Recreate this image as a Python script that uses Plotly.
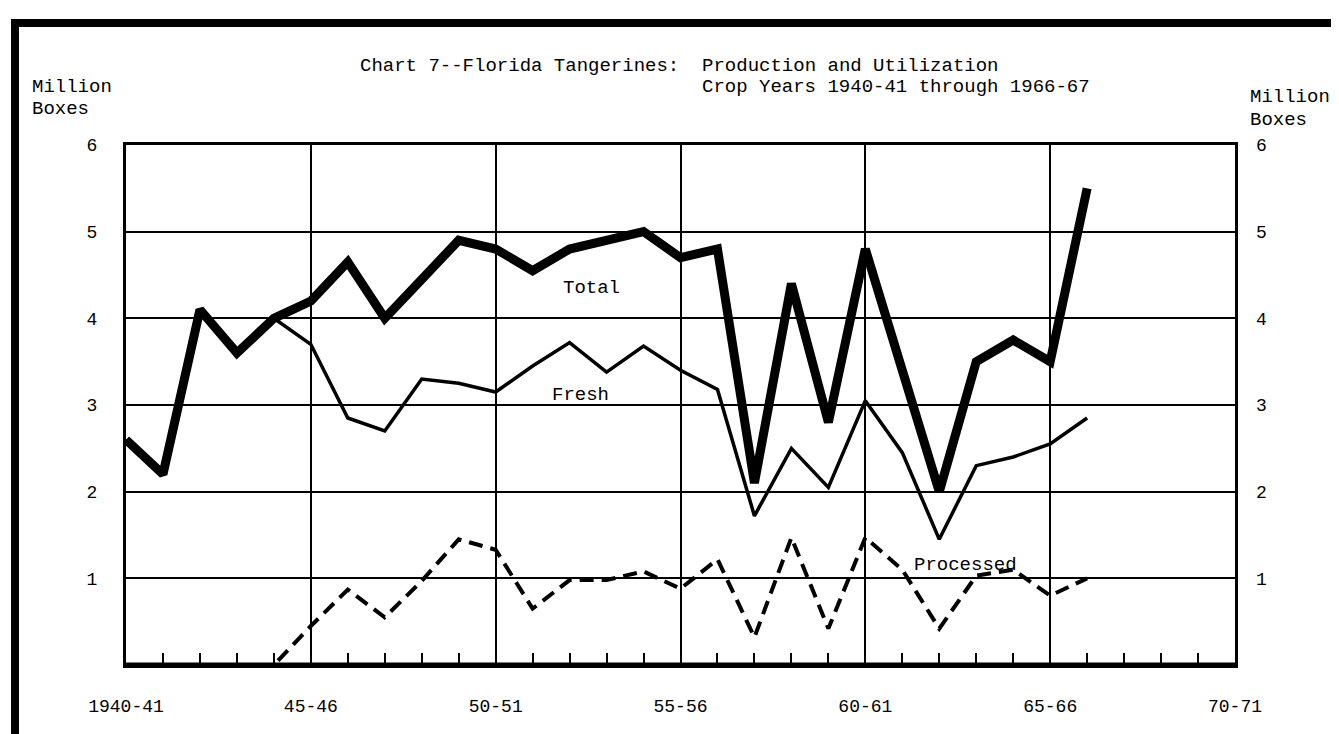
import plotly.graph_objects as go

# ---- data (million boxes), crop years starting 1940 (1940-41) ----
crop_year_start = list(range(1940, 1967))
total = [2.6, 2.2, 4.1, 3.6, 4.0, 4.2, 4.65, 4.0, 4.45, 4.9, 4.8, 4.55, 4.8, 4.9,
         5.0, 4.7, 4.8, 2.1, 4.4, 2.8, 4.8, 3.4, 2.0, 3.5, 3.75, 3.5, 5.5]
fresh = [2.6, 2.2, 4.1, 3.6, 4.0, 3.7, 2.85, 2.7, 3.3, 3.25, 3.15, 3.45, 3.72, 3.38,
         3.68, 3.4, 3.18, 1.72, 2.5, 2.05, 3.05, 2.45, 1.45, 2.3, 2.4, 2.55, 2.85]
processed = [0, 0, 0, 0, 0, 0.45, 0.87, 0.55, 0.97, 1.45, 1.33, 0.65, 0.98, 0.98,
             1.08, 0.88, 1.22, 0.32, 1.47, 0.42, 1.47, 1.1, 0.42, 1.03, 1.1, 0.8, 1.0]

x_tick_vals = [1940, 1945, 1950, 1955, 1960, 1965, 1970]
x_tick_text = ["1940-41", "45-46", "50-51", "55-56", "60-61", "65-66", "70-71"]
y_tick_vals = [1, 2, 3, 4, 5, 6]

FONT = "Liberation Mono"
W, H = 1339, 734
L, R, T, B = 118, 1227, 137, 657


def px(x):
    return (x - L) / (R - L)


def py(y):
    return (B - y) / (B - T)


fig = go.Figure()
fig.add_trace(go.Scatter(x=crop_year_start, y=processed, mode="lines",
                         line=dict(color="black", width=4, dash="14px,8px"),
                         showlegend=False, hoverinfo="skip"))
fig.add_trace(go.Scatter(x=crop_year_start, y=fresh, mode="lines",
                         line=dict(color="black", width=3.5),
                         showlegend=False, hoverinfo="skip"))
fig.add_trace(go.Scatter(x=crop_year_start, y=total, mode="lines",
                         line=dict(color="black", width=9),
                         showlegend=False, hoverinfo="skip"))
# invisible companion so that the right-hand axis is drawn
fig.add_trace(go.Scatter(x=crop_year_start, y=total, mode="lines", yaxis="y2",
                         line=dict(color="rgba(0,0,0,0)", width=0),
                         showlegend=False, hoverinfo="skip"))

fig.update_layout(
    width=W, height=H,
    margin=dict(l=L, r=W - R, t=T, b=H - B),
    paper_bgcolor="white", plot_bgcolor="white",
    font=dict(family=FONT, color="black", size=18),
    xaxis=dict(range=[1940, 1970], tickvals=x_tick_vals, ticktext=x_tick_text,
               showgrid=True, gridcolor="black", gridwidth=2,
               showline=True, linecolor="black", linewidth=3, mirror=True,
               ticks="inside", ticklen=12, tickwidth=2, tickcolor="black",
               minor=dict(dtick=1, ticks="inside", ticklen=12, tickwidth=2,
                          tickcolor="black", showgrid=False),
               ticklabelstandoff=22, zeroline=False,
               tickfont=dict(family=FONT, size=18, color="black")),
    yaxis=dict(range=[0, 6], tickvals=y_tick_vals, showgrid=True,
               gridcolor="black", gridwidth=2, showline=True, linecolor="black",
               linewidth=3, mirror=True, ticks="", zeroline=False,
               ticklabelstandoff=22,
               tickfont=dict(family=FONT, size=18, color="black")),
    yaxis2=dict(range=[0, 6], tickvals=y_tick_vals, overlaying="y", side="right",
                showgrid=False, showline=False, ticks="", zeroline=False,
                ticklabelstandoff=20,
                tickfont=dict(family=FONT, size=18, color="black")),
)

# thicker bottom axis line
fig.add_shape(type="line", xref="paper", yref="paper", x0=0, x1=1, y0=0, y1=0,
              line=dict(color="black", width=5), layer="above")

# page frame
frame = dict(xref="paper", yref="paper", type="rect", fillcolor="black",
             line=dict(width=0), layer="above")
fig.add_shape(x0=px(6), x1=px(1338), y0=py(11), y1=py(19), **frame)   # top
fig.add_shape(x0=px(3), x1=px(11), y0=py(11), y1=py(734), **frame)    # left
fig.add_shape(x0=px(1330), x1=px(1338), y0=py(11), y1=py(734), **frame)  # right
fig.add_shape(x0=px(3), x1=px(360), y0=py(729), y1=py(734), **frame)  # bottom

NB = "\u00a0"
ann = dict(xref="paper", yref="paper", showarrow=False,
           font=dict(family=FONT, size=19, color="black"))
title1 = "Chart 7--Florida Tangerines:" + NB * 2 + "Production and Utilization"
title2 = "Crop Years 1940-41 through 1966-67"
fig.add_annotation(x=px(350), y=py(58), text=title1, xanchor="left", yanchor="middle", **ann)
fig.add_annotation(x=px(350 + 30 * 11.4), y=py(79), text=title2, xanchor="left", yanchor="middle", **ann)
fig.add_annotation(x=px(22), y=py(79), text="Million", xanchor="left", yanchor="middle", **ann)
fig.add_annotation(x=px(22), y=py(101), text="Boxes", xanchor="left", yanchor="middle", **ann)
fig.add_annotation(x=px(1240), y=py(89), text="Million", xanchor="left", yanchor="middle", **ann)
fig.add_annotation(x=px(1240), y=py(112), text="Boxes", xanchor="left", yanchor="middle", **ann)

lab = dict(xref="x", yref="y", showarrow=False,
           font=dict(family=FONT, size=19, color="black"))
fig.add_annotation(x=1952.6, y=4.35, text="Total", **lab)
fig.add_annotation(x=1952.3, y=3.12, text="Fresh", **lab)
fig.add_annotation(x=1962.7, y=1.15, text="Processed", **lab)

fig.write_html("out.html")
